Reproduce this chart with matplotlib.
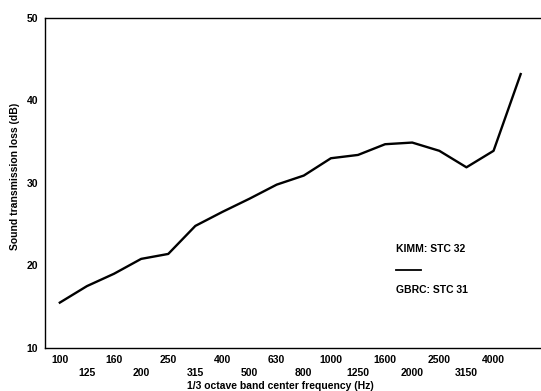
import matplotlib.pyplot as plt
import numpy as np

plt.rcParams['font.family'] = ['Liberation Sans', 'DejaVu Sans']

# 1/3 octave band centre frequencies (Hz)
freqs = ['100', '125', '160', '200', '250', '315', '400', '500', '630', '800',
         '1000', '1250', '1600', '2000', '2500', '3150', '4000', '5000']
# GBRC measured transmission loss (dB)
gbrc = [15.5, 17.5, 19.0, 20.8, 21.4, 24.8, 26.5, 28.1, 29.8, 30.9,
        33.0, 33.4, 34.7, 34.9, 33.9, 31.9, 33.9, 43.2]

fig = plt.figure(figsize=(5.41, 3.91), dpi=100)
ax = fig.add_axes([0.083, 0.110, 0.917, 0.844])

x = np.arange(len(freqs))
ax.plot(x, gbrc, color='black', lw=1.7, solid_joinstyle='round')

ax.set_ylim(10, 50)
ax.set_xlim(-0.55, 17.75)
ax.set_yticks([10, 20, 30, 40, 50])
ax.tick_params(axis='y', length=0, pad=5, labelsize=7.5)
for lab in ax.get_yticklabels():
    lab.set_fontweight('bold')

# staggered frequency labels (last band has no label)
ax.set_xticks(x[:-1])
labs = []
for i, f in enumerate(freqs[:-1]):
    labs.append(f if i % 2 == 0 else '\n' + f)
ax.set_xticklabels(labs, fontsize=7.5, fontweight='bold', linespacing=1.35)
ax.tick_params(axis='x', length=0, pad=5)

ax.spines['right'].set_visible(False)
for s in ['left', 'top', 'bottom']:
    ax.spines[s].set_linewidth(1.0)

ax.set_xlabel('1/3 octave band center frequency (Hz)', fontsize=7.5,
              fontweight='bold')
ax.xaxis.set_label_coords(0.474, -0.099)
ax.set_ylabel('Sound transmission loss (dB)', fontsize=7.5, fontweight='bold')
ax.yaxis.set_label_coords(-0.050, 0.52)

# legend block
ax.text(0.708, 0.30, 'KIMM: STC 32', transform=ax.transAxes, fontsize=7.5,
        fontweight='bold', va='center')
ax.plot([0.708, 0.758], [0.235, 0.235], transform=ax.transAxes,
        color='black', lw=1.3)
ax.text(0.708, 0.175, 'GBRC: STC 31', transform=ax.transAxes, fontsize=7.5,
        fontweight='bold', va='center')

plt.savefig('out.png', dpi=100)
